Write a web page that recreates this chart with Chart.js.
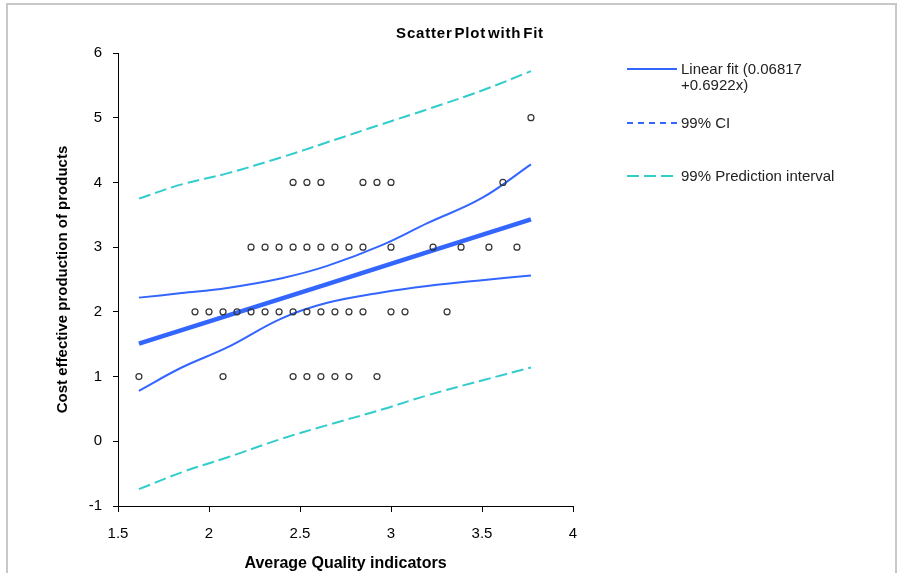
<!DOCTYPE html>
<html>
<head>
  <title>Scatter Plot with Fit</title>
  <script src="https://cdn.jsdelivr.net/npm/chart.js"></script>
  <style>
    body { margin: 0; background: #fff; font-family: "Liberation Sans", Arial, sans-serif; }
    #wrap { position: relative; width: 901px; height: 573px; overflow: hidden; }
    #frame { position: absolute; left: 6px; top: 3px; width: 887px; height: 620px; border: 2px solid #c8c8c8; }
    canvas { position: absolute; left: 0; top: 0; }
    #title { position: absolute; left: 370px; width: 200px; top: 24px; text-align: center; font-weight: bold; font-size: 15px; letter-spacing: 0.8px; word-spacing: -3px; color: #000; }
    .item { position: absolute; left: 627px; font-size: 15px; color: #222; }
    .item .ln { position: absolute; left: 0; width: 50px; height: 0; }
    .item .tx { position: absolute; left: 54px; white-space: nowrap; line-height: 16px; }
  </style>
</head>
<body>
  <div id="wrap">
    <div id="frame"></div>
    <canvas id="chart" width="901" height="573"></canvas>
    <div id="title">Scatter Plot with Fit</div>
    <div class="item" style="top:69px">
      <div class="ln" style="border-top:2px solid #3366ff; top:-1px"></div>
      <div class="tx" style="top:-8px">Linear fit (0.06817<br>+0.6922x)</div>
    </div>
    <div class="item" style="top:123px">
      <div class="ln" style="border-top:2px dashed #3366ff; top:-1px"></div>
      <div class="tx" style="top:-8px">99% CI</div>
    </div>
    <div class="item" style="top:176px">
      <div class="ln" style="height:2px; top:-1px; background:repeating-linear-gradient(90deg,#33cccc 0 12px,transparent 12px 17px)"></div>
      <div class="tx" style="top:-8px">99% Prediction interval</div>
    </div>
  </div>

  <script>
    // observed points (x = average quality, y = cost effective score)
    const obsX = [
      1.615, 2.077, 2.462, 2.538, 2.615, 2.692, 2.769, 2.923,
      1.923, 2.0, 2.077, 2.154, 2.231, 2.308, 2.385, 2.462, 2.538, 2.615, 2.692, 2.769, 2.846, 3.0, 3.077, 3.308,
      2.231, 2.308, 2.385, 2.462, 2.538, 2.615, 2.692, 2.769, 2.846, 3.0, 3.231, 3.385, 3.538, 3.692,
      2.462, 2.538, 2.615, 2.846, 2.923, 3.0, 3.615,
      3.769
    ];
    const obsY = [
      1, 1, 1, 1, 1, 1, 1, 1,
      2, 2, 2, 2, 2, 2, 2, 2, 2, 2, 2, 2, 2, 2, 2, 2,
      3, 3, 3, 3, 3, 3, 3, 3, 3, 3, 3, 3, 3, 3,
      4, 4, 4, 4, 4, 4, 4,
      5
    ];

    // fitted line
    const fitX = [1.615, 2.65, 3.769];
    const fitY = [1.51, 2.43, 3.43];

    // confidence / prediction bands
    const bandX   = [1.615, 1.85, 2.1, 2.4, 2.65, 2.95, 3.2, 3.5, 3.769];
    const ciUpper = [2.22, 2.29, 2.37, 2.52, 2.71, 3.03, 3.37, 3.76, 4.28];
    const ciLower = [0.78, 1.14, 1.45, 1.90, 2.14, 2.30, 2.40, 2.49, 2.56];
    const piUpper = [3.75, 3.97, 4.14, 4.39, 4.62, 4.90, 5.13, 5.42, 5.72];
    const piLower = [-0.74, -0.48, -0.25, 0.04, 0.25, 0.49, 0.71, 0.94, 1.14];

    const xTicks = [1.5, 2, 2.5, 3, 3.5, 4];
    const yTicks = [-1, 0, 1, 2, 3, 4, 5, 6];

    function pts(xs, ys) {
      return xs.map((x, i) => ({ x: x, y: ys[i] }));
    }

    function curve(label, xs, ys, color, width, dash, order) {
      return {
        type: 'line',
        label: label,
        data: pts(xs, ys),
        borderColor: color,
        borderWidth: width,
        borderDash: dash,
        pointRadius: 0,
        fill: false,
        tension: 0.4,
        order: order
      };
    }

    const fontName = '"Liberation Sans", Arial, sans-serif';

    new Chart(document.getElementById('chart'), {
      type: 'scatter',
      data: {
        datasets: [
          {
            label: 'Observed',
            data: pts(obsX, obsY),
            pointStyle: 'circle',
            pointRadius: 3,
            borderWidth: 1.2,
            borderColor: '#333',
            backgroundColor: 'rgba(0,0,0,0)',
            order: 0
          },
          curve('Linear fit', fitX, fitY, '#3366ff', 4.5, [], 1),
          curve('99% CI upper', bandX, ciUpper, '#3366ff', 2, [], 2),
          curve('99% CI lower', bandX, ciLower, '#3366ff', 2, [], 2),
          curve('99% PI upper', bandX, piUpper, '#33cccc', 2, [12, 5], 3),
          curve('99% PI lower', bandX, piLower, '#33cccc', 2, [12, 5], 3)
        ]
      },
      options: {
        responsive: false,
        animation: false,
        layout: { padding: { top: 53, right: 328, left: 0, bottom: 0 } },
        plugins: {
          legend: { display: false },
          tooltip: { enabled: false },
          title: { display: false }
        },
        scales: {
          x: {
            type: 'linear',
            min: 1.5, max: 4,
            afterFit: s => { s.height = 67; },
            afterBuildTicks: s => { s.ticks = xTicks.map(v => ({ value: v })); },
            grid: { drawOnChartArea: false, drawTicks: true, tickLength: 6, color: '#000' },
            border: { display: true, color: '#000', width: 1 },
            ticks: {
              color: '#000', padding: 13,
              font: { family: fontName, size: 15 },
              callback: v => String(v)
            },
            title: {
              display: true,
              text: 'Average Quality indicators',
              color: '#000',
              padding: { top: 0, bottom: 0 },
              font: { family: fontName, size: 16, weight: 'bold' }
            }
          },
          y: {
            type: 'linear',
            min: -1, max: 6,
            afterFit: s => { s.width = 118; },
            afterBuildTicks: s => { s.ticks = yTicks.map(v => ({ value: v })); },
            grid: { drawOnChartArea: false, drawTicks: true, tickLength: 5, color: '#000' },
            border: { display: true, color: '#000', width: 1 },
            ticks: {
              color: '#000', padding: 11,
              font: { family: fontName, size: 15 },
              callback: v => String(v)
            },
            title: {
              display: true,
              text: 'Cost effective production of products',
              color: '#000',
              padding: { top: 54, bottom: 0 },
              font: { family: fontName, size: 15, weight: 'bold' }
            }
          }
        }
      }
    });
  </script>
</body>
</html>
